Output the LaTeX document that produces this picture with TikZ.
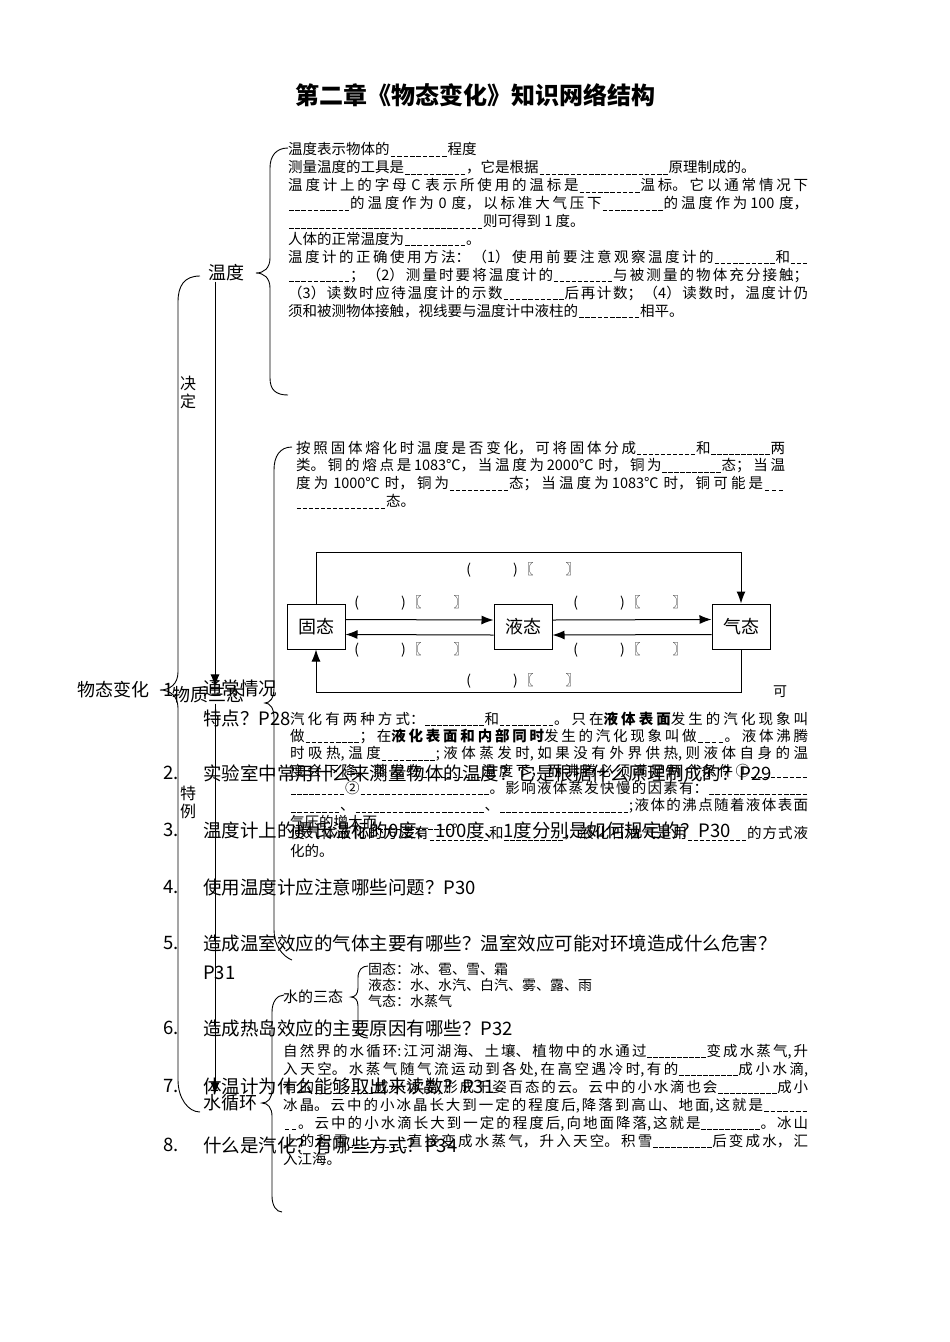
\documentclass[tikz,border=0pt]{standalone}
\usepackage{fontspec}
\setmainfont{Noto Sans CJK SC}
\usepackage{tikz}
\usetikzlibrary{positioning, arrows.meta}
\XeTeXlinebreaklocale "zh"
\XeTeXlinebreakskip=0pt plus 3pt
% dashed fill-in blank
\newcommand\blk[1]{\leavevmode\hbox to #1pt{\xleaders\hbox to 6pt{\hss\rule[-1.5pt]{4.5pt}{0.5pt}\hss}\hfill}}

\begin{document}
\begin{tikzpicture}[x=1pt, y=-1pt,
    txt/.style={inner sep=0pt, anchor=north west, align=justify, font=\fontsize{14.5}{17.9}\selectfont},
    qst/.style={inner sep=0pt, anchor=west, font=\fontsize{18.5}{22}\selectfont},
    lbl/.style={inner sep=0pt, font=\fontsize{18}{20}\selectfont},
    side/.style={inner sep=0pt, align=center, font=\fontsize{16}{18}\selectfont},
    state/.style={draw, line width=1pt, minimum width=58pt, minimum height=45pt, inner sep=0pt, font=\fontsize{18}{20}\selectfont},
    fill/.style={inner sep=0pt, font=\fontsize{14}{16}\selectfont},
    brc/.style={line width=0.9pt},
    arr/.style={-{Latex[length=12pt, width=9pt]}, line width=1pt}]
  \useasboundingbox (0,0) rectangle (950,1342);

  \node[inner sep=0pt, font=\fontsize{24}{28}\selectfont\bfseries] (title) at (475,95) {第二章《物态变化》知识网络结构};

  % questions behind the chart
  \node[qst] (n1) at (163,690) {1.};
  \node[qst] (q1) at (203,688) {通常情况};
  \node[qst] (q1b) at (203,718) {特点？P28};
  \foreach \n/\y/\q in {2/773/实验室中常用什么来测量物体的温度？它是根据什么原理制成的？P29,
      3/830/温度计上的摄氏温标的0度、100度、1度分别是如何规定的？P30,
      4/887/使用温度计应注意哪些问题？P30,
      5/943/造成温室效应的气体主要有哪些？温室效应可能对环境造成什么危害？,
      6/1028/造成热岛效应的主要原因有哪些？P32,
      7/1086/体温计为什么能够取出来读数？P31,
      8/1145/什么是汽化？有哪些方式？P34} {
    \node[qst] (n\n) at (163,\y) {\n.};
    \node[qst] (q\n) at (203,\y) {\q};
  }
  \node[qst] (q5b) at (203,973) {P31};

  % main labels
  \node[lbl, anchor=east] (main) at (150,690) {物态变化};
  \node[lbl] (wendu) at (226,273) {温度};
  \node[lbl, anchor=west] (santai) at (172,695) {物质三态};
  \node[lbl, anchor=west] (xunhuan) at (203,1103) {水循环};
  \node[side] (jueding) at (188,392) {决\\定};
  \node[side] (teli) at (188,802) {特\\例};
  \coordinate (arrx) at (215,0);
  \draw[arr] (wendu.south -| arrx) -- (santai.north -| arrx);
  \draw[arr] (santai.south -| arrx) -- (xunhuan.north -| arrx);

  % braces
  \draw[brc] (200,276) .. controls (184,276) and (178,286) .. (178,302) -- (178,672)
    .. controls (178,684) and (170,690) .. (160,690) .. controls (170,690) and (178,696) .. (178,708)
    -- (178,1080) .. controls (178,1098) and (188,1112) .. (200,1112);
  \draw[brc] (288,148) .. controls (276,148) and (270,156) .. (270,168) -- (270,258)
    .. controls (270,268) and (264,273) .. (256,273) .. controls (264,273) and (270,278) .. (270,288)
    -- (270,378) .. controls (270,390) and (276,395) .. (288,395);
  \draw[brc] (292,447) .. controls (280,447) and (274,456) .. (274,470) -- (274,688)
    .. controls (274,698) and (270,703) .. (265,703) .. controls (270,703) and (274,708) .. (274,718)
    -- (274,930) .. controls (274,945) and (282,956) .. (292,960);
  \draw[brc] (368,966) .. controls (362,966) and (358,970) .. (358,978) -- (358,988)
    .. controls (358,994) and (355,997) .. (351,997) .. controls (355,997) and (358,1000) .. (358,1006)
    -- (358,1030) .. controls (358,1035) and (362,1038) .. (368,1038);
  \draw[brc] (284,995) .. controls (277,995) and (272,1002) .. (272,1012) -- (272,1090)
    .. controls (272,1098) and (268,1103) .. (262,1103) .. controls (268,1103) and (272,1108) .. (272,1116)
    -- (272,1196) .. controls (272,1205) and (276,1212) .. (282,1212);

  % temperature
  \node[txt, text width=520pt] (wendutxt) at (288,142.5) {%
    温度表示物体的\blk{58}程度\\
    测量温度的工具是\blk{62}，它是根据\blk{130}原理制成的。\\
    温度计上的字母 C 表示所使用的温标是\blk{62}温标。它以通常情况下\linebreak
    \blk{62}的温度作为 0 度，以标准大气压下\blk{62}的温度作为100 度，\linebreak
    \blk{195}则可得到 1 度。\\
    人体的正常温度为\blk{62}。\\
    温度计的正确使用方法：（1）使用前要注意观察温度计的\blk{62}和\blk{18}\linebreak
    \blk{62}；（2）测量时要将温度计的\blk{60}与被测量的物体充分接触；\linebreak
    （3）读数时应待温度计的示数\blk{62}后再计数；（4）读数时，温度计仍\linebreak
    须和被测物体接触，视线要与温度计中液柱的\blk{62}相平。};

  % three states
  \node[txt, text width=489pt] (ronghua) at (296,440.5) {%
    按照固体熔化时温度是否变化，可将固体分成\blk{60}和\blk{60}两\linebreak
    类。铜的熔点是1083℃，当温度为2000℃ 时，铜为\blk{60}态；当温\linebreak
    度为 1000℃ 时，铜为\blk{60}态；当温度为1083℃ 时，铜可能是\blk{22}\linebreak
    \blk{90}态。};

  \node[state] (gutai) at (316,626.5) {固态};
  \node[state] (yetai) at (523,627) {液态};
  \node[state] (qitai) at (741,626.5) {气态};
  \draw[arr] ([yshift=7pt]gutai.east) -- ([yshift=7pt]yetai.west);
  \draw[arr] ([yshift=-8pt]yetai.west) -- ([yshift=-8pt]gutai.east);
  \draw[arr] ([yshift=7pt]yetai.east) -- ([yshift=7pt]qitai.west);
  \draw[arr] ([yshift=-8pt]qitai.west) -- ([yshift=-8pt]yetai.east);
  \draw[arr] (gutai.north) -- ++(0,-51) -| (qitai.north);
  \draw[arr] (qitai.south) -- ++(0,43) -| (gutai.south);
  \foreach \nm/\x/\y in {ftop/523/570, ful/411/603, fll/411/650, fur/630/603, flr/630/650, fbot/523/681} {
    \node[fill] (\nm) at (\x,\y) {(\hspace{42pt})\hspace{2pt}〖\hspace{32pt}〗};
  }
  \node[fill] (ke) at (780,692) {可};

  % vaporisation
  \node[txt, text width=518pt, font=\fontsize{14.5}{17.3}\selectfont] (qihua) at (290,711.5) {%
    汽化有两种方式：\blk{60}和\blk{55}。只在\textbf{液体表面}发生的汽化现象叫\linebreak
    做\blk{55}；在\textbf{液化表面和内部同时}发生的汽化现象叫做\blk{28}。液体沸腾\linebreak
    时吸热,温度\blk{55};液体蒸发时,如果没有外界供热,则液体自身的温\linebreak
    度会下降。蒸发在\blk{60}温度下，而沸腾必须满足两个条件①\blk{58}\linebreak
    \blk{55}②\blk{130}。影响液体蒸发快慢的因素有：\blk{100}\linebreak
    \blk{50}、\blk{130}、\blk{130};液体的沸点随着液体表面\linebreak
    气压的增大而\blk{75}。};
  \node[txt, text width=518pt, font=\fontsize{14.5}{18}\selectfont] (yehua) at (290,826.5) {%
    使气体液化的方法有\blk{60}和\blk{60}，液化石油气是用\blk{60}的方式液\linebreak
    化的。};

  % water
  \node[lbl, anchor=west, font=\fontsize{15}{17}\selectfont] (shuisantai) at (283,997) {水的三态};
  \node[inner sep=0pt, anchor=north west, align=left, font=\fontsize{14}{16}\selectfont] (sanzhuang) at (368,962) {%
    固态：冰、雹、雪、霜\\
    液态：水、水汽、白汽、雾、露、雨\\
    气态：水蒸气};
  \node[txt, text width=525pt, font=\fontsize{14.5}{18}\selectfont] (xunhuantxt) at (283,1043.5) {%
    自然界的水循环:江河湖海、土壤、植物中的水通过\blk{60}变成水蒸气,升\linebreak
    入天空。水蒸气随气流运动到各处,在高空遇冷时,有的\blk{60}成小水滴,\linebreak
    有的\blk{60}成小冰晶,形成千姿百态的云。云中的小水滴也会\blk{60}成小\linebreak
    冰晶。云中的小冰晶长大到一定的程度后,降落到高山、地面,这就是\blk{45}\linebreak
    \blk{15}。云中的小水滴长大到一定的程度后,向地面降落,这就是\blk{60}。冰山\linebreak
    上的积雪\blk{60}直接变成水蒸气，升入天空。积雪\blk{60}后变成水，汇\linebreak
    入江海。};
\end{tikzpicture}
\end{document}
